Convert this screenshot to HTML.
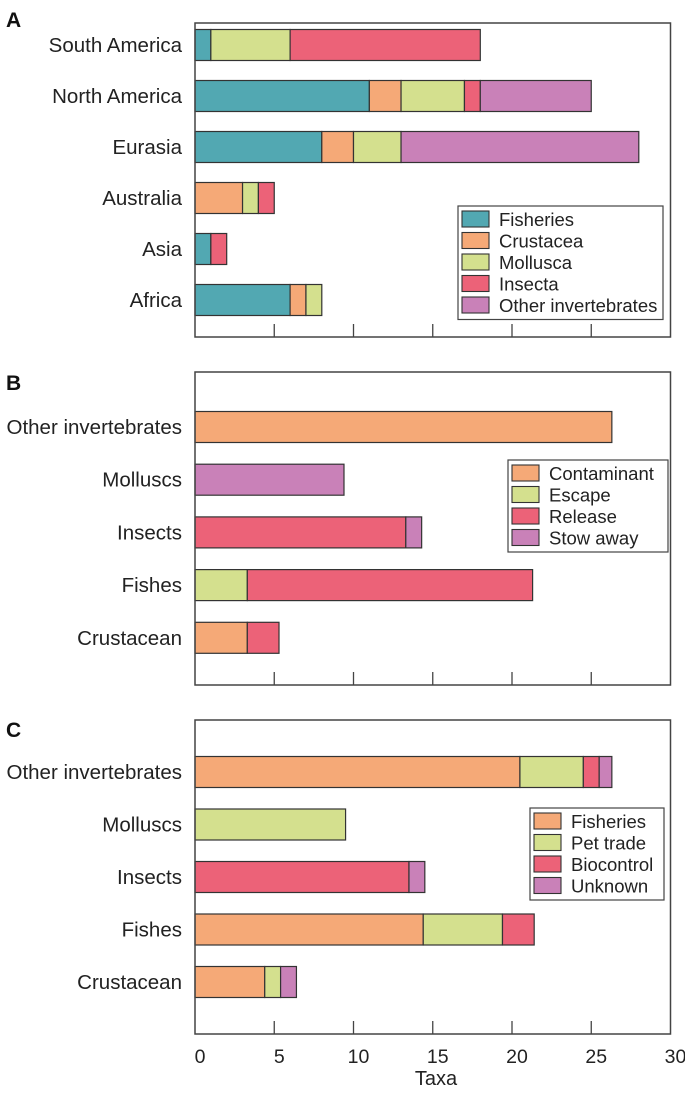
<!DOCTYPE html>
<html><head><meta charset="utf-8"><style>
body{margin:0;background:#fff;width:685px;height:1089px;overflow:hidden}
svg text{font-family:"Liberation Sans",Arial,sans-serif}
</style></head><body>
<svg id="chart" width="685" height="1089"></svg>
<script>
// Panel A
const catsA=["South America","North America","Eurasia","Australia","Asia","Africa"];
const seriesA=["Fisheries","Crustacea","Mollusca","Insecta","Other invertebrates"];
const colA=["#52a8b2","#f5a977","#d4e08e","#ec6278","#c981b8"];
const fishA=[1,11,8,0,1,6];
const crustA=[0,2,2,3,0,1];
const mollA=[5,4,3,1,0,1];
const insA=[12,1,0,1,1,0];
const othA=[0,7,15,0,0,0];
// Panel B
const catsB=["Other invertebrates","Molluscs","Insects","Fishes","Crustacean"];
const seriesB=["Contaminant","Escape","Release","Stow away"];
const colB=["#f5a977","#d4e08e","#ec6278","#c981b8"];
const contB=[26.3,0,0,0,3.3];
const escB=[0,0,0,3.3,0];
const relB=[0,0,13.3,18,2];
const stowB=[0,9.4,1,0,0];
// Panel C
const catsC=["Other invertebrates","Molluscs","Insects","Fishes","Crustacean"];
const seriesC=["Fisheries","Pet trade","Biocontrol","Unknown"];
const colC=["#f5a977","#d4e08e","#ec6278","#c981b8"];
const fishC=[20.5,0,0,14.4,4.4];
const petC=[4,9.5,0,5,1];
const bioC=[1,0,13.5,2,0];
const unkC=[0.8,0,1,0,1];
const ticks=[0,5,10,15,20,25,30];

const svg=document.getElementById('chart');
const NS="http://www.w3.org/2000/svg";
function mk(t,a,p){const e=document.createElementNS(NS,t);for(const k in a)e.setAttribute(k,a[k]);(p||svg).appendChild(e);return e;}
const x0=195,x1=670.5;
const xs=v=>x0+v*(x1-x0)/30;

function panel(letter,top,bottom,cats,series,cols,vals,firstC,step,legend,name){
  const g=mk('g',{});
  
  
  const lab=mk('text',{x:6,y:letter==='A'?27:(letter==='B'?390:737),'font-size':21,'font-weight':'bold',fill:'#111'},g);
  lab.textContent=letter;
  
  
  cats.forEach((c,i)=>{
    const cy=firstC+i*step;
    const t=mk('text',{x:182,y:cy+7,'font-size':20.5,'text-anchor':'end',fill:'#222'},g);
    t.textContent=c;
    
    
    let acc=0;
    vals.forEach((arr,s)=>{
      const v=arr[i];
      if(v>0){
        const r=mk('rect',{x:xs(acc),y:cy-15.5,width:xs(acc+v)-xs(acc),height:31,fill:cols[s],stroke:'#333','stroke-width':1.2},g);
        
        
      }
      acc+=v;
    });
  });
  const f=mk('rect',{x:x0,y:top,width:x1-x0,height:bottom-top,fill:'none',stroke:'#444','stroke-width':1.5},g);
  
  
  ticks.forEach(v=>{
    if(v>0&&v<30){const l=mk('line',{x1:xs(v),x2:xs(v),y1:bottom,y2:bottom-13,stroke:'#444','stroke-width':1.3},g);
    
    }
  });
  const lg=mk('g',{},g);
  
  
  mk('rect',{x:legend.x,y:legend.y,width:legend.w,height:series.length*21.5+6,fill:'#fff',stroke:'#444','stroke-width':1.2},lg);
  series.forEach((s,j)=>{
    const y=legend.y+5+j*21.5;
    const sw=mk('rect',{x:legend.x+4,y:y,width:27,height:16,fill:cols[j],stroke:'#333','stroke-width':1.1},lg);
    
    
    const tt=mk('text',{x:legend.x+41,y:y+15,'font-size':18.5,fill:'#222'},lg);
    tt.textContent=s;
    
    
  });
}
panel('A',23,337,catsA,seriesA,colA,[fishA,crustA,mollA,insA,othA],45,51,{x:458,y:206,w:205},'panel-a');
panel('B',372,685,catsB,seriesB,colB,[contB,escB,relB,stowB],427,52.7,{x:508,y:460,w:160},'panel-b');
panel('C',720,1034,catsC,seriesC,colC,[fishC,petC,bioC,unkC],772,52.5,{x:530,y:808,w:134},'panel-c');
ticks.forEach(v=>{
  const t=mk('text',{x:xs(v)+5,y:1063,'font-size':19.5,'text-anchor':'middle',fill:'#222'});
  t.textContent=v;
  
  
});
const xt=mk('text',{x:436,y:1085,'font-size':20,'text-anchor':'middle',fill:'#222'});
xt.textContent='Taxa';


</script>
</body></html>
